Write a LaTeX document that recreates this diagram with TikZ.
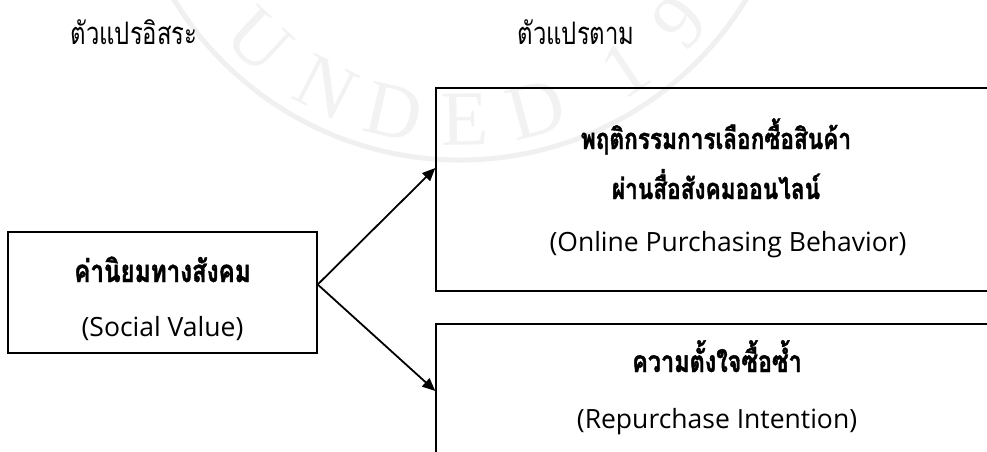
\documentclass[tikz,border=0pt]{standalone}
\usepackage{fontspec}
\usetikzlibrary{arrows.meta,calc}
\newfontfamily\thaifont[Script=Thai,FakeStretch=0.78,BoldFeatures={FakeBold=1.3}]{Loma}
\newfontfamily\thaicond[Script=Thai,FakeStretch=0.77]{Loma}
\newfontfamily\latinf{Open Sans}
\newfontfamily\wmfont{Liberation Serif}
\tikzset{
  boxnode/.style={draw=black,line width=1.4pt,fill=none,inner sep=0pt,rectangle},
  hdr/.style={font=\thaicond\fontsize{31}{34}\selectfont,anchor=base,inner sep=0pt},
  thtext/.style={font=\thaifont\bfseries\fontsize{29}{32}\selectfont,anchor=base,inner sep=0pt},
  entext/.style={font=\latinf\fontsize{26.5}{30}\selectfont,anchor=base,inner sep=0pt},
  conn/.style={line width=1.8pt,-{Triangle[length=13pt,width=11pt]}},
  wm/.style={font=\wmfont\fontsize{78}{80}\selectfont,text=black!5,inner sep=0pt}
}
\begin{document}
\begin{tikzpicture}[x=1pt,y=-1pt]
\useasboundingbox (0,0) rectangle (987,452);
\clip (0,0) rectangle (987,452);
% watermark
\coordinate (wc) at (460,-175);
\draw[black!6,line width=5pt] ([shift={(-170:335pt)}]wc) arc[start angle=-170,end angle=-10,radius=335pt];
\foreach \ch/\a in {O/-150,U/-133,N/-117,D/-103,E/-89,D/-75,1/-56,9/-42,3/-27}{
  \node[wm,rotate=\a+90] (wm\a) at ([shift={(\a:295pt)}]wc) {\ch};
}
% headers
\node[hdr] (h1) at (134,45) {ตัวแปรอิสระ};
\node[hdr] (h2) at (576,45) {ตัวแปรตาม};
% boxes
\node[boxnode,minimum width=309pt,minimum height=121pt] (sv) at (162.5,292.5) {};
\node[boxnode,minimum width=562pt,minimum height=203pt] (ob) at (717,189.5) {};
\node[boxnode,minimum width=562pt,minimum height=134pt] (ri) at (717,391) {};
% texts
\node[thtext,font=\thaifont\bfseries\fontsize{31}{34}\selectfont] (sv1) at (162.5,282) {ค่านิยมทางสังคม};
\node[entext] (sv2) at (162.5,336) {(Social Value)};
\node[thtext] (ob1) at (716,149) {พฤติกรรมการเลือกซื้อสินค้า};
\node[thtext] (ob2) at (716,199) {ผ่านสื่อสังคมออนไลน์};
\node[entext] (ob3) at (728,251) {(Online Purchasing Behavior)};
\node[thtext,font=\thaifont\bfseries\fontsize{30}{33}\selectfont] (ri1) at (717,372) {ความตั้งใจซื้อซ้ำ};
\node[entext] (ri2) at (717,428) {(Repurchase Intention)};
% connectors
\draw[conn] ([yshift=8pt]sv.east) -- ([yshift=21.5pt]ob.west);
\draw[conn] ([yshift=8pt]sv.east) -- (ri.west);
\end{tikzpicture}
\end{document}
